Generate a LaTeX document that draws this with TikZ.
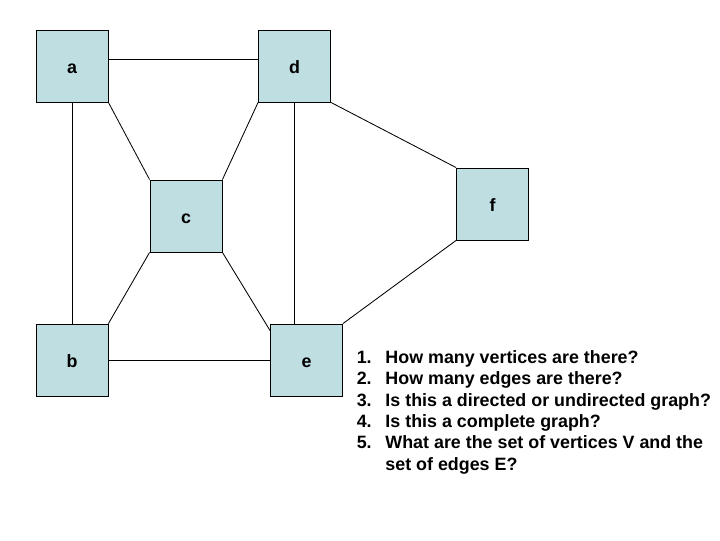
\documentclass[tikz,border=0pt]{standalone}
\usepackage{fontspec}
\setmainfont{Liberation Sans}
\usepackage{tikz}
\usetikzlibrary{calc}
\definecolor{boxblue}{RGB}{190,222,226}

\begin{document}
\begin{tikzpicture}[x=0.025cm,y=-0.025cm,
  vtx/.style={draw=black,line width=0.6pt,fill=boxblue,minimum size=1.8cm,inner sep=0pt,
    text height=10.4pt,text depth=0pt,font=\fontsize{12.7}{15.2}\bfseries\selectfont},
  every edge/.style={draw,line width=0.6pt}]
  \useasboundingbox (0,0) rectangle (720,540);
  \node[vtx] (a) at (72,66) {a};
  \node[vtx] (d) at (294.5,66) {d};
  \node[vtx] (c) at (186,216) {c};
  \node[vtx] (f) at (492.5,204) {f};
  \node[vtx] (b) at (72,360) {b};
  \node[vtx] (e) at (306.5,360) {e};
  \path (a.10) edge (d.170)
        (a.south) edge (b.north)
        (a.south east) edge (c.north west)
        (d.south west) edge (c.north east)
        (d.south) edge (d.south |- e.north)
        (d.south east) edge (f.north west)
        (c.south west) edge (b.north east)
        (c.south east) edge ([yshift=-5]e.north west)
        (f.south west) edge (e.north east)
        (b.east) edge (e.west);
  \node[anchor=north west,inner sep=0pt,font=\fontsize{12.7}{15.2}\bfseries\selectfont] (q) at (356.5,348)
    {\begin{tabular}{@{}p{20.4pt}@{}l@{}}
      1. & How many vertices are there?\\
      2. & How many edges are there?\\
      3. & Is this a directed or undirected graph?\\
      4. & Is this a complete graph?\\
      5. & What are the set of vertices V and the\\
         & set of edges E?
    \end{tabular}};
\end{tikzpicture}
\end{document}
